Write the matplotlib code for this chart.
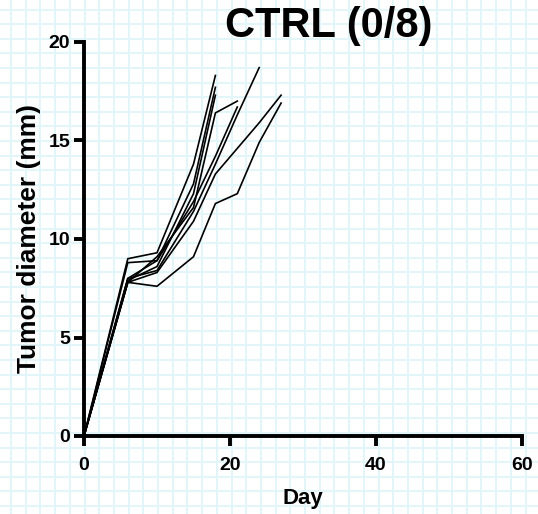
import numpy as np
import matplotlib
matplotlib.use("Agg")
import matplotlib.pyplot as plt

plt.rcParams['font.family'] = ['Liberation Sans', 'DejaVu Sans']
plt.rcParams['font.weight'] = 'bold'

# Measurement days
days = [0, 6, 10, 15, 18, 21, 24, 27]

# Tumor diameter (mm) per mouse
mouse1 = [0, 7.8, 7.6, 9.1, 11.8, 12.3, 14.9, 16.9]
mouse2 = [0, 7.8, 8.3, 10.9, 13.3, 14.6, 15.9, 17.3]
mouse3 = [0, 8.0, 8.4, 11.4, 13.8, 16.3, 18.7]
mouse4 = [0, 7.8, 9.1, 11.6, 16.4, 17.0]
mouse5 = [0, 8.0, 8.9, 11.9, 14.2, 16.7]
mouse6 = [0, 9.0, 9.3, 13.8, 18.3]
mouse7 = [0, 8.8, 8.9, 12.8, 17.7]
mouse8 = [0, 7.9, 8.6, 12.3, 17.3]
mice = [mouse1, mouse2, mouse3, mouse4, mouse5, mouse6, mouse7, mouse8]

title = "CTRL (0/8)"
xticks = [0, 20, 40, 60]
yticks = [0, 5, 10, 15, 20]

W, H = 538, 514
fig = plt.figure(figsize=(W / 100, H / 100), dpi=100)

# graph-paper background
bg = fig.add_axes([0, 0, 1, 1], zorder=-1)
bg.set_xlim(0, W)
bg.set_ylim(H, 0)
bg.axis('off')
for gx in np.arange(11, W, 14.7):
    bg.axvline(gx, color='#e2f5f8', lw=1.4)
for gy in np.arange(9.5, H, 14.6):
    bg.axhline(gy, color='#e2f5f8', lw=1.4)

ax = fig.add_axes([84 / W, 1 - 436 / H, 438 / W, 394 / H])
ax.set_facecolor('none')

for m in mice:
    ax.plot(days[:len(m)], m, color='black', lw=1.2, clip_on=False)

ax.set_xlim(0, 60)
ax.set_ylim(0, 20)
ax.set_xticks(xticks)
ax.set_yticks(yticks)

for side in ['top', 'right']:
    ax.spines[side].set_visible(False)
for side in ['left', 'bottom']:
    ax.spines[side].set_linewidth(2.8)

ax.tick_params(axis='both', width=2.8, length=7, labelsize=14)
ax.tick_params(axis='x', pad=8)
ax.tick_params(axis='y', pad=3)
for lab in ax.get_xticklabels() + ax.get_yticklabels():
    lab.set_fontweight('bold')

ax.set_xlabel('Day', fontsize=16, fontweight='bold', labelpad=10)
ax.set_ylabel('Tumor diameter (mm)', fontsize=19, fontweight='bold', labelpad=5)

fig.text(329 / W, 1 - 37.5 / H, title, fontsize=30, fontweight='bold',
         ha='center', va='baseline')

fig.savefig('out.png', dpi=100)
